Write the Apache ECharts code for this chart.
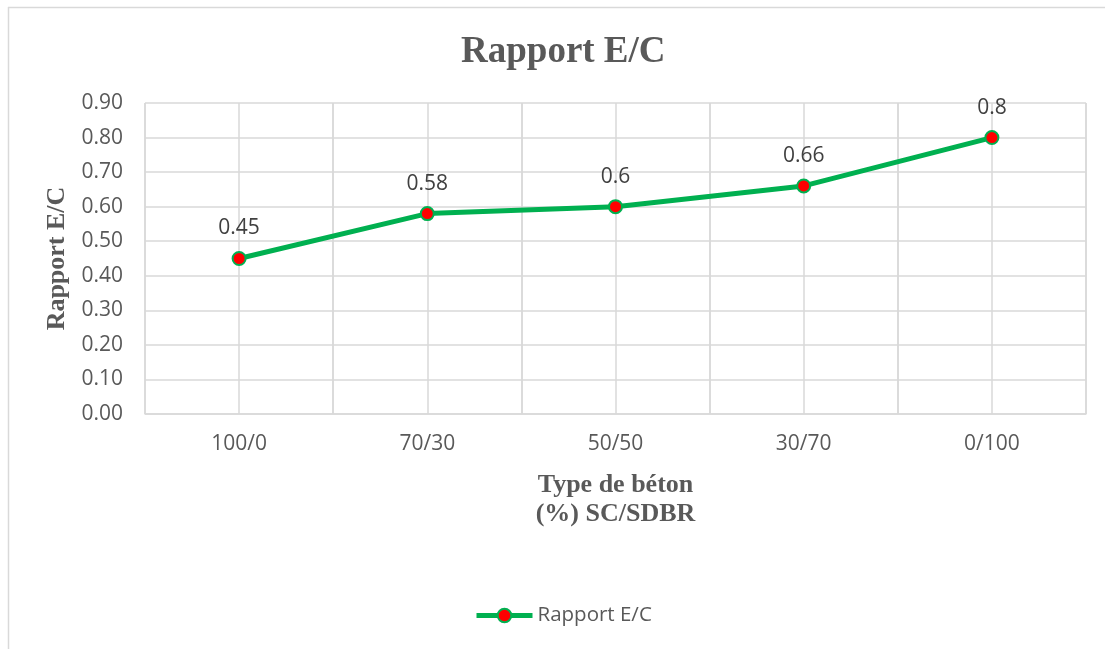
<!DOCTYPE html>
<html>
<head>
<meta charset="utf-8">
<script src="https://cdn.jsdelivr.net/npm/echarts@6/dist/echarts.min.js"></script>
<style>html,body{margin:0;padding:0;background:#fff;}#c{width:1105px;height:649px;}</style>
</head>
<body>
<div id="c"></div>
<script>
var categories = ['100/0', '70/30', '50/50', '30/70', '0/100'];
var ratioValues = [0.45, 0.58, 0.6, 0.66, 0.8];
var yTicks = [0, 0.1, 0.2, 0.3, 0.4, 0.5, 0.6, 0.7, 0.8, 0.9];
var seriesName = 'Rapport E/C';

var chart = echarts.init(document.getElementById('c'), null, {renderer: 'canvas'});
var serif = '"Liberation Serif", "Times New Roman", serif';
var sans = '"Open Sans", "Noto Sans", sans-serif';
chart.setOption({
  animation: false,
  backgroundColor: '#fff',
  title: {
    text: 'Rapport E/C', left: 456, top: 29,
    textStyle: {fontFamily: serif, fontWeight: 'bold', fontSize: 37, color: '#595959'}
  },
  legend: {
    bottom: 18, left: 469, itemWidth: 56, itemHeight: 17, itemGap: 10,
    lineStyle: {width: 5},
    textStyle: {fontFamily: sans, fontSize: 20.5, color: '#595959'},
    data: [seriesName]
  },
  grid: {left: 145, right: 19, top: 103, bottom: 235},
  xAxis: [{
    type: 'category', data: categories, boundaryGap: true,
    axisLine: {lineStyle: {color: '#d9d9d9', width: 1.5}},
    axisTick: {show: false},
    axisLabel: {fontFamily: sans, fontSize: 21, color: '#595959', margin: 20},
    splitLine: {show: true, lineStyle: {color: '#d9d9d9', width: 1.5}},
    name: 'Type de béton\n(%) SC/SDBR', nameLocation: 'middle', nameGap: 57,
    nameTextStyle: {fontFamily: serif, fontWeight: 'bold', fontSize: 26, color: '#595959', lineHeight: 29}
  }, {
    type: 'value', min: 0, max: 10, interval: 1, position: 'bottom',
    axisLine: {show: false}, axisTick: {show: false}, axisLabel: {show: false},
    splitLine: {show: true, lineStyle: {color: '#d9d9d9', width: 1.5}}
  }],
  yAxis: {
    type: 'value', min: yTicks[0], max: yTicks[yTicks.length - 1], interval: 0.1,
    axisLine: {show: false}, axisTick: {show: false},
    axisLabel: {fontFamily: sans, fontSize: 21, color: '#595959', margin: 22,
      formatter: function (v) { return v.toFixed(2); }},
    splitLine: {show: true, lineStyle: {color: '#d9d9d9', width: 1.5}},
    name: 'Rapport E/C', nameLocation: 'middle', nameGap: 70, nameRotate: 90,
    nameTextStyle: {fontFamily: serif, fontWeight: 'bold', fontSize: 26, color: '#595959'}
  },
  series: [{
    name: seriesName, type: 'line', data: ratioValues, xAxisIndex: 0,
    symbol: 'circle', symbolSize: 13,
    lineStyle: {color: '#00B050', width: 5},
    itemStyle: {color: '#FF0000', borderColor: '#00B050', borderWidth: 2},
    label: {show: true, position: 'top', distance: 12, fontFamily: sans, fontSize: 21, color: '#404040',
      formatter: function (p) { return String(p.value); }}
  }],
  graphic: [
    {type: 'line', shape: {x1: 8.5, y1: 7, x2: 8.5, y2: 649}, style: {stroke: '#d9d9d9', lineWidth: 1.5}, silent: true},
    {type: 'line', shape: {x1: 8, y1: 7.5, x2: 1105, y2: 7.5}, style: {stroke: '#d9d9d9', lineWidth: 1.5}, silent: true}
  ]
});
</script>
</body>
</html>
